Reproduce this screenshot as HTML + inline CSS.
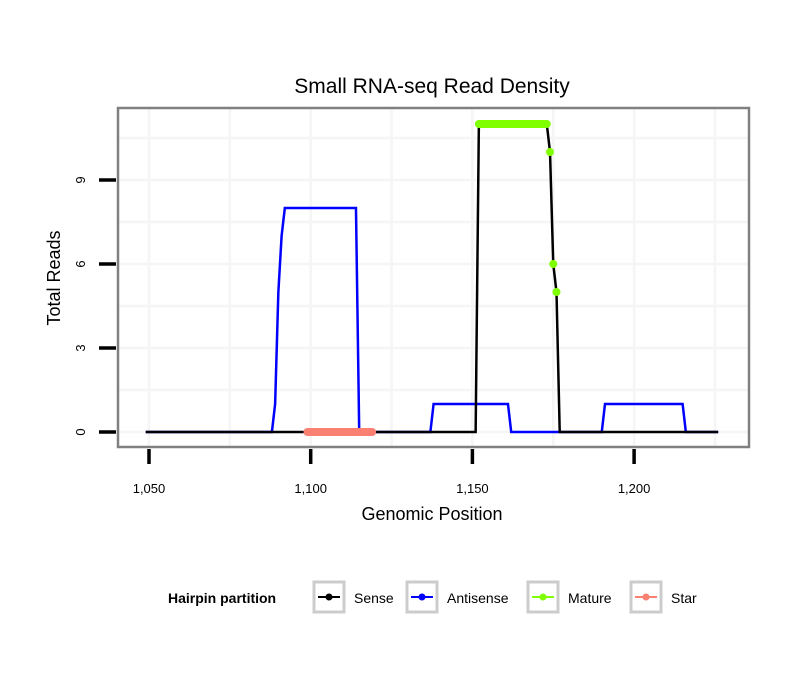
<!DOCTYPE html>
<html><head><meta charset="utf-8"><style>
body{margin:0;background:#fff}
text{font-family:"Liberation Sans",sans-serif}
</style></head><body>
<svg id="chart" width="810" height="690" xmlns="http://www.w3.org/2000/svg">
<text x="432" y="93" font-size="21" text-anchor="middle">Small RNA-seq Read Density</text>
<g id="grid"></g>
<g id="series"></g>
<rect x="118" y="108" width="631" height="339" fill="none" stroke="#808080" stroke-width="2.5"/>
<g id="axes"></g>
<text x="432" y="520" font-size="18" text-anchor="middle">Genomic Position</text>
<text transform="translate(60,278) rotate(-90)" font-size="18" text-anchor="middle">Total Reads</text>
<g>
<text x="168" y="603" font-size="14" font-weight="bold">Hairpin partition</text>
<g><rect x="314" y="582" width="30" height="30" fill="#fff" stroke="#ccc" stroke-width="3"/><line x1="318" y1="597" x2="340" y2="597" stroke="#000" stroke-width="2"/><circle cx="329" cy="597" r="3.5" fill="#000"/><text x="354" y="603" font-size="14">Sense</text></g>
<g><rect x="407" y="582" width="30" height="30" fill="#fff" stroke="#ccc" stroke-width="3"/><line x1="411" y1="597" x2="433" y2="597" stroke="#00f" stroke-width="2"/><circle cx="422" cy="597" r="3.5" fill="#00f"/><text x="447" y="603" font-size="14">Antisense</text></g>
<g><rect x="528" y="582" width="30" height="30" fill="#fff" stroke="#ccc" stroke-width="3"/><line x1="532" y1="597" x2="554" y2="597" stroke="#7fff00" stroke-width="2"/><circle cx="543" cy="597" r="3.5" fill="#7fff00"/><text x="568" y="603" font-size="14">Mature</text></g>
<g><rect x="631" y="582" width="30" height="30" fill="#fff" stroke="#ccc" stroke-width="3"/><line x1="635" y1="597" x2="657" y2="597" stroke="#fa8072" stroke-width="2"/><circle cx="646" cy="597" r="3.5" fill="#fa8072"/><text x="671" y="603" font-size="14">Star</text></g>
</g>
</svg>
<script>
const senseX=[1049,1151,1152,1173,1174,1175,1176,1177,1226];
const senseY=[0,0,11,11,10,6,5,0,0];
const antiX=[1049,1088,1089,1090,1091,1092,1114,1115,1137,1138,1161,1162,1190,1191,1215,1216,1226];
const antiY=[0,0,1,5,7,8,8,0,0,1,1,0,0,1,1,0,0];
const matureX=[1152,1173];
const matureY=[11,11];
const maturePtsX=[1174,1175,1176];
const maturePtsY=[10,6,5];
const starX=[1099,1119];
const starY=[0,0];
const xTicks=[1050,1100,1150,1200];
const xTickLabels=["1,050","1,100","1,150","1,200"];
const yTicks=[0,3,6,9];
const yTickLabels=["0","3","6","9"];
const NS="http://www.w3.org/2000/svg";
const sx=v=>149+(v-1050)*3.234;
const sy=v=>432-v*28;
function mk(tag,parent,attrs){const e=document.createElementNS(NS,tag);for(const k in attrs)e.setAttribute(k,attrs[k]);document.getElementById(parent).appendChild(e);return e;}
for(let v=1025;v<=1225;v+=25){const x=sx(v);if(x<119||x>748)continue;const l=mk('line','grid',{x1:x,x2:x,y1:109,y2:446,stroke:'#f5f5f5','stroke-width':2.5});

}
for(let v=0;v<=12;v+=1.5){const y=sy(v);if(y<109||y>446)continue;const l=mk('line','grid',{x1:119,x2:748,y1:y,y2:y,stroke:'#f5f5f5','stroke-width':2.5});

}
xTicks.forEach((v,i)=>{const t=mk('line','axes',{x1:sx(v),x2:sx(v),y1:449,y2:464,stroke:'#000','stroke-width':3.5});


const tx=mk('text','axes',{x:sx(v),y:493,'font-size':13,'text-anchor':'middle'});tx.textContent=xTickLabels[i];

});
yTicks.forEach((v,i)=>{const t=mk('line','axes',{x1:99,x2:116,y1:sy(v),y2:sy(v),stroke:'#000','stroke-width':3.5});


const tx=mk('text','axes',{transform:`translate(85,${sy(v)}) rotate(-90)`,'font-size':13,'text-anchor':'middle'});tx.textContent=yTickLabels[i];

});
function pts(X,Y){return X.map((x,i)=>sx(x)+','+sy(Y[i])).join(' ');}
const a=mk('polyline','series',{points:pts(antiX,antiY),fill:'none',stroke:'#00f','stroke-width':2.5});


const s=mk('polyline','series',{points:pts(senseX,senseY),fill:'none',stroke:'#000','stroke-width':2.5});


const st=mk('polyline','series',{points:pts(starX,starY),fill:'none',stroke:'#fa8072','stroke-width':8,'stroke-linecap':'round'});


const m=mk('polyline','series',{points:pts(matureX,matureY),fill:'none',stroke:'#7fff00','stroke-width':8,'stroke-linecap':'round'});


maturePtsX.forEach((x,i)=>{const c=mk('circle','series',{cx:sx(x),cy:sy(maturePtsY[i]),r:4,fill:'#7fff00'});

});
</script>
</body></html>
